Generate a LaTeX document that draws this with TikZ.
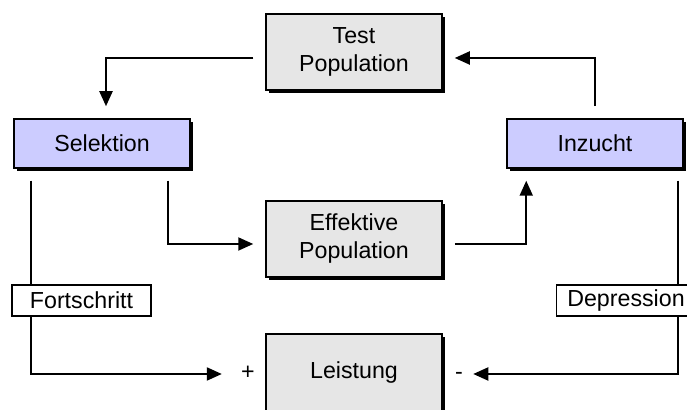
\documentclass[tikz,border=0pt]{standalone}
\usepackage{fontspec}
\setmainfont{Liberation Sans}
\usepackage{tikz}
\usetikzlibrary{arrows.meta, positioning, shadows, calc}
\definecolor{boxgray}{HTML}{E6E6E6}
\definecolor{lavender}{HTML}{CCCCFF}

\begin{document}
\begin{tikzpicture}[x=0.5pt, y=-0.5pt,
    box/.style={rectangle, draw, line width=0.75pt, fill=boxgray, minimum width=88pt, minimum height=38pt, align=center,
        drop shadow={shadow xshift=1.5pt, shadow yshift=-1.5pt, fill=black, opacity=1}},
    flat/.style={box, fill=lavender, minimum height=24.5pt},
    tag/.style={rectangle, draw, line width=0.75pt, fill=white, minimum width=69.5pt, minimum height=15.5pt, inner sep=1pt},
    sign/.style={inner sep=1pt, text height=8pt, text depth=2pt},
    arrow/.style={-{Triangle[length=7.5pt, width=6.5pt]}, line width=1pt, shorten >=6pt, shorten <=6pt}]
    \fontsize{11.6}{14}\selectfont
    \useasboundingbox (0,0) rectangle (687,410);
    % Nodes
    \node[box] (test) at (354,52) {Test\\Population};
    \node[flat] (sel) at (102,143.5) {Selektion};
    \node[flat] (inz) at (595,143.5) {Inzucht};
    \node[box] (eff) at (354,239) {Effektive\\Population};
    \node[box, minimum height=39pt] (lei) at (354,373) {Leistung};
    \node[sign] (plus) at (248,374) {+};
    \node[sign] (minus) at (459,374) {-};

    % Arrows
    \draw[arrow] ([yshift=-3pt]test.west) -| ([xshift=2pt]sel.north);
    \draw[arrow] (inz.north) |- ([yshift=-3pt]test.east);
    \draw[arrow] ([xshift=-11.5pt]sel.south east) |- ([yshift=-2.5pt]eff.west);
    \draw[arrow] ([yshift=-2.5pt]eff.east) -| ([xshift=10pt]inz.south west);
    \draw[arrow, shorten >=8.5pt] ([xshift=9pt]sel.south west) |- (plus.west);
    \draw[arrow, shorten >=4pt] ([xshift=-3pt]inz.south east) |- (minus.east);

    % Labels on the lines
    \node[tag] (fort) at (81.5,300.5) {Fortschritt};
    \node[tag] (dep) at (626,300.5) {Depression};
\end{tikzpicture}
\end{document}
